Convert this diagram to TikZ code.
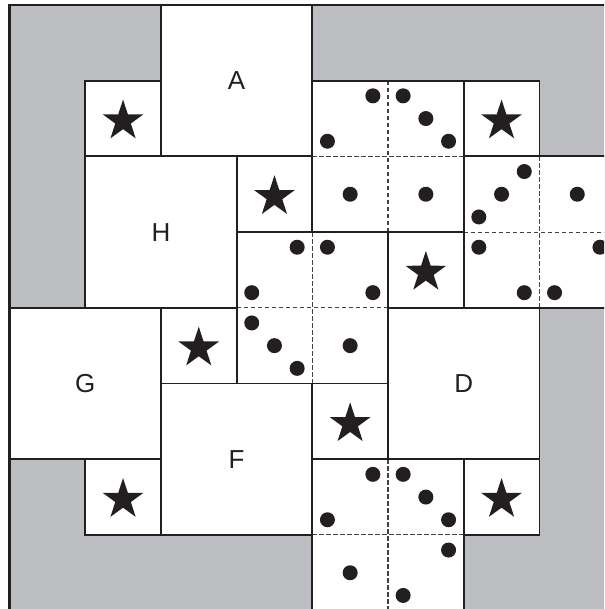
\documentclass[tikz,border=0pt]{standalone}
\usepackage{fontspec}
\setmainfont{Liberation Sans}
\definecolor{ink}{RGB}{35,31,32}
\definecolor{bg}{RGB}{189,190,194}
\begin{document}
\begin{tikzpicture}[x=75.7pt,y=-75.7pt,
  piece/.style={fill=white,draw=ink,line width=1.8pt},
  sep/.style={draw=ink!85,line width=1.1pt,dash pattern=on 4.5pt off 2.5pt},
  dot/.style={fill=ink},
  lab/.style={font=\fontsize{26}{26}\selectfont,text=ink,inner sep=0pt},
  starpic/.pic={\fill[ink] (90:21.4pt) -- (126:8.2pt) -- (162:21.4pt) -- (198:8.2pt) -- (234:21.4pt) -- (270:8.2pt) -- (306:21.4pt) -- (342:8.2pt) -- (18:21.4pt) -- (54:8.2pt) -- cycle;}]
\useasboundingbox (-9.5pt,5pt) rectangle (594.5pt,-604pt);
\clip (-9.5pt,5pt) rectangle (594.5pt,-604pt);
% background
\fill[bg] (0,0) rectangle (8.5,8.5);
% big squares
\draw[piece] (2,0) rectangle (4,2);
\draw[piece] (1,2) rectangle (3,4);
\draw[piece] (0,4) rectangle (2,6);
\draw[piece] (5,4) rectangle (7,6);
\draw[piece] (2,5) rectangle (4,7);
% star cells
\foreach \i/\j in {1/1,6/1,3/2,5/3,2/4,4/5,1/6,6/6}
  \draw[piece] (\i,\j) rectangle ++(1,1);
% dot blocks
\foreach \i/\j in {4/1,6/2,3/3,4/6}{
  \fill[white] (\i,\j) rectangle ++(2,2);
  \draw[sep] (\i+1,\j) -- ++(0,2);
  \draw[sep] (\i,\j+1) -- ++(2,0);
  \draw[piece,fill=none] (\i,\j) rectangle ++(2,2);
}
% outer frame
\draw[ink,line width=2.6pt] (0,8.5) -- (0,0) -- (8.5,0);
% dots
\foreach \p in {(4.8,1.2),(4.2,1.8),(5.2,1.2),(5.5,1.5),(5.8,1.8),(4.5,2.5),(5.5,2.5),
  (6.8,2.2),(6.5,2.5),(6.2,2.8),(7.5,2.5),(6.2,3.2),(6.8,3.8),(7.8,3.2),(7.2,3.8),
  (3.8,3.2),(3.2,3.8),(4.2,3.2),(4.8,3.8),(3.2,4.2),(3.5,4.5),(3.8,4.8),(4.5,4.5),
  (4.8,6.2),(4.2,6.8),(5.2,6.2),(5.5,6.5),(5.8,6.8),(4.5,7.5),(5.8,7.2),(5.2,7.8)}
  \fill[dot] \p circle (7.5pt);
% stars
\foreach \i/\j in {1/1,6/1,3/2,5/3,2/4,4/5,1/6,6/6}
  \pic at (\i+0.5,\j+0.532) {starpic};
% labels
\node[lab] (A) at (3,1) {A};
\node[lab] (H) at (2,3) {H};
\node[lab] (G) at (1,5) {G};
\node[lab] (D) at (6,5) {D};
\node[lab] (F) at (3,6) {F};
\end{tikzpicture}
\end{document}
